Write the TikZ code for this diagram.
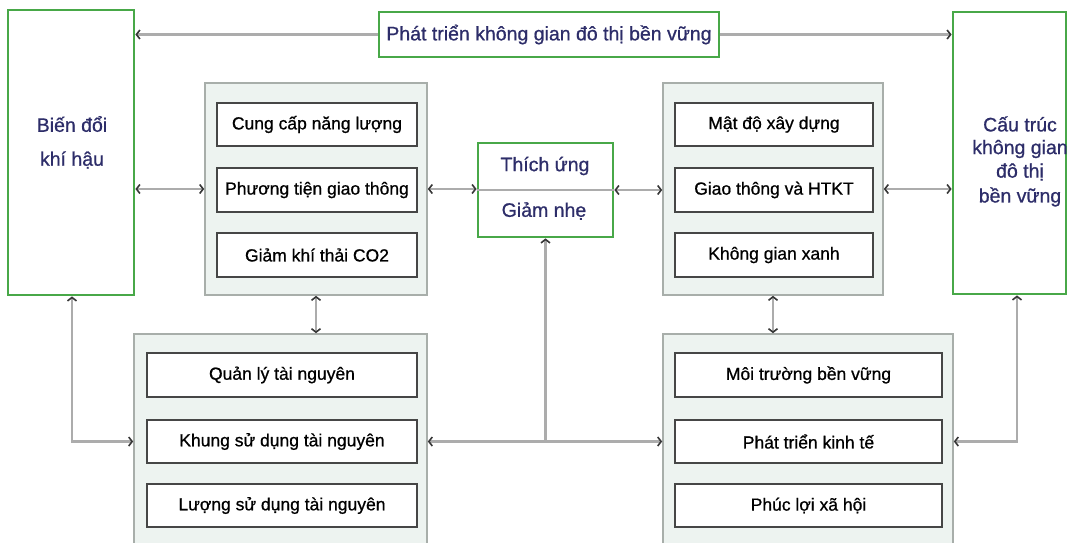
\documentclass[tikz,border=0pt]{standalone}
\usepackage{fontspec}
\setmainfont{Liberation Sans}
\newfontfamily\heavyfont[FakeBold=0.8]{Liberation Sans}
\usetikzlibrary{arrows.meta}
\definecolor{gbox}{RGB}{72,168,72}
\definecolor{navy}{RGB}{45,45,105}
\definecolor{panelfill}{RGB}{237,243,240}
\definecolor{paneldraw}{RGB}{168,174,170}
\definecolor{innerdraw}{RGB}{70,70,70}
\definecolor{conn}{RGB}{172,172,172}
\definecolor{tipc}{RGB}{55,55,55}
\tikzset{
  greenbox/.style={draw=gbox, line width=2.8pt, fill=white, inner sep=0pt},
  panel/.style={draw=paneldraw, line width=1.6pt, fill=panelfill, inner sep=0pt},
  inner/.style={draw=innerdraw, line width=1.8pt, fill=white, inner sep=0pt, font=\heavyfont\fontsize{17.5}{20}\selectfont, text=black},
  gtext/.style={font=\heavyfont\fontsize{19.5}{23}\selectfont, text=navy, inner sep=0pt, align=center},
  link/.style={draw=conn, line width=2.6pt, {Straight Barb[length=3.5pt,width=9pt,line width=1.6pt,color=tipc]}-{Straight Barb[length=3.5pt,width=9pt,line width=1.6pt,color=tipc]}},
  linkend/.style={draw=conn, line width=2.6pt, -{Straight Barb[length=3.5pt,width=9pt,line width=1.6pt,color=tipc]}},
}
\begin{document}
\begin{tikzpicture}[x=1pt,y=-1pt]
\useasboundingbox (0,0) rectangle (1069,542);
\fill[white] (0,0) rectangle (1069,542);
\clip (0,0) rectangle (1069,542);
% green boxes
\node[greenbox, minimum width=126pt, minimum height=285pt] (bdkh) at (71,152.5) {};
\node[gtext] (bdkh1) at (72,124) {Biến đổi};
\node[gtext] (bdkh2) at (72,160) {khí hậu};
\node[greenbox, minimum width=340pt, minimum height=45pt, gtext] (top) at (549,34.5) {Phát triển không gian đô thị bền vững};
\node[greenbox, minimum width=113pt, minimum height=282pt] (cau) at (1009.5,153) {};
\node[gtext] (cau1) at (1020,124) {Cấu trúc};
\node[gtext] (cau2) at (1020,149) {không gian};
\node[gtext] (cau3) at (1020,172) {đô thị};
\node[gtext] (cau4) at (1020,197) {bền vững};
% panels
\node[panel, minimum width=222pt, minimum height=212pt] (pL) at (316,189) {};
\node[panel, minimum width=220pt, minimum height=212pt] (pR) at (773,189) {};
\node[panel, minimum width=293pt, minimum height=226pt] (pBL) at (280.5,447) {};
\node[panel, minimum width=290pt, minimum height=226pt] (pBR) at (808,447) {};
% inner boxes
\node[inner, minimum width=200pt, minimum height=43pt] (l1) at (317,124.5) {Cung cấp năng lượng};
\node[inner, minimum width=200pt, minimum height=44pt] (l2) at (317,190) {Phương tiện giao thông};
\node[inner, minimum width=200pt, minimum height=44pt] (l3) at (317,255) {Giảm khí thải CO2};
\node[inner, minimum width=198pt, minimum height=43pt] (r1) at (774,124.5) {Mật độ xây dựng};
\node[inner, minimum width=198pt, minimum height=44pt] (r2) at (774,190) {Giao thông và HTKT};
\node[inner, minimum width=198pt, minimum height=44pt] (r3) at (774,255) {Không gian xanh};
\node[inner, minimum width=270pt, minimum height=44pt] (bl1) at (282,375) {Quản lý tài nguyên};
\node[inner, minimum width=270pt, minimum height=43pt] (bl2) at (282,441.5) {Khung sử dụng tài nguyên};
\node[inner, minimum width=270pt, minimum height=43pt] (bl3) at (282,505.5) {Lượng sử dụng tài nguyên};
\node[inner, minimum width=267pt, minimum height=44pt] (br1) at (808.5,375) {Môi trường bền vững};
\node[inner, minimum width=267pt, minimum height=43pt] (br2) at (808.5,441.5) {Phát triển kinh tế};
\node[inner, minimum width=267pt, minimum height=43pt] (br3) at (808.5,505.5) {Phúc lợi xã hội};
% middle box
\node[greenbox, minimum width=135pt, minimum height=94pt] (thich) at (545.5,190) {};
\draw[conn, line width=1.2pt] (thich.west) -- (thich.east);
\node[gtext, fill=white, inner sep=1pt] (th1) at (545,166) {Thích ứng};
\node[gtext, fill=white, inner sep=1pt] (th2) at (544,211) {Giảm nhẹ};
% connectors
\draw[linkend] (top.west) -- (top.west -| bdkh.east);
\draw[linkend] (top.east) -- (top.east -| cau.west);
\draw[link] (pL.west -| bdkh.east) -- (pL.west);
\draw[link] (pL.east) -- (pL.east -| thich.west);
\draw[link] (thich.east) -- (thich.east -| pR.west);
\draw[link] (pR.east) -- (pR.east -| cau.west);
\draw[link] (pL.south) -- (pL.south |- pBL.north);
\draw[link] (pR.south) -- (pR.south |- pBR.north);
\coordinate (bdkhfoot) at ([xshift=1pt]bdkh.south);
\coordinate (caufoot) at ([xshift=7.5pt]cau.south);
\draw[link] (bdkhfoot) |- (pBL.west |- bl2);
\draw[link] (caufoot) |- (pBR.east |- br2);
\draw[link] (pBL.east |- bl2) -- (pBR.west |- br2);
\coordinate (junc) at (thich.south |- bl2);
\draw[linkend] (junc) -- (thich.south);
\end{tikzpicture}
\end{document}
